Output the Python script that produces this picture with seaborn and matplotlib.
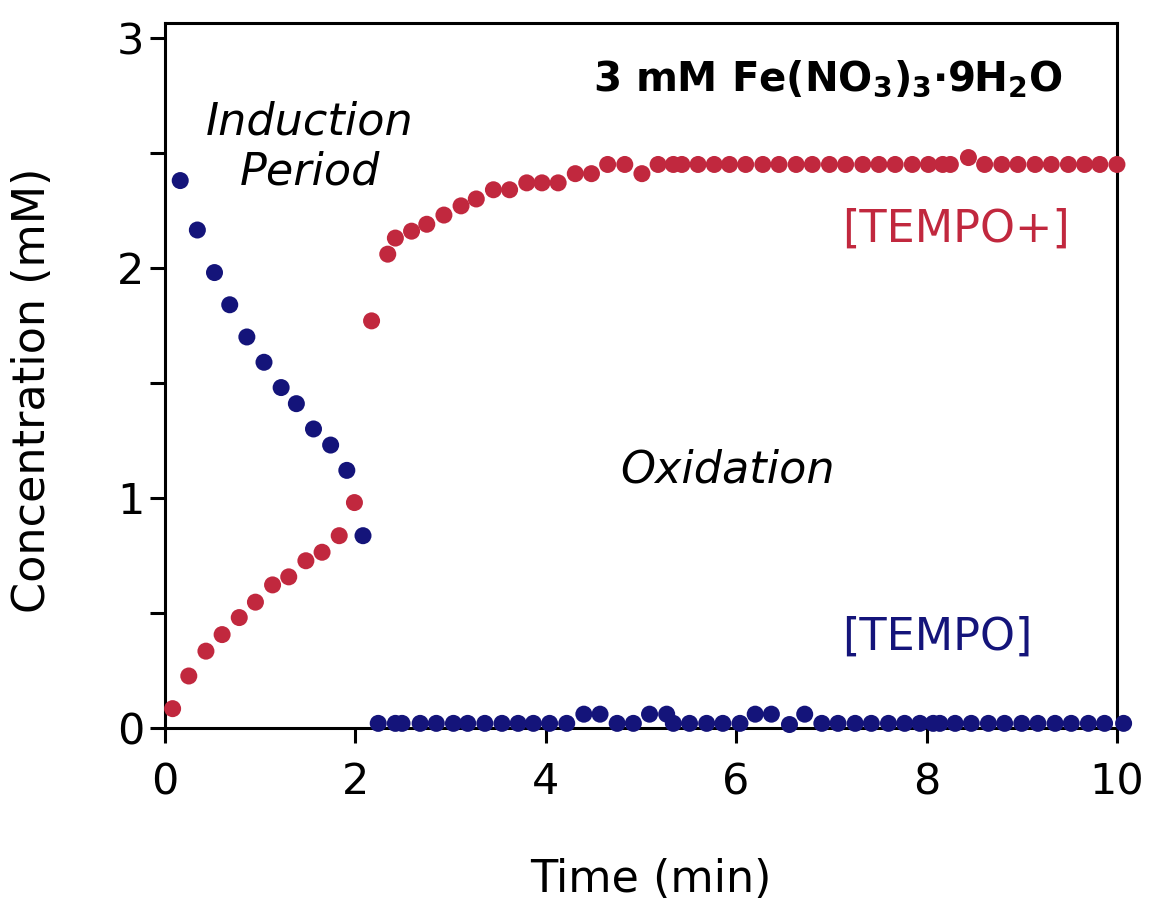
import matplotlib
matplotlib.use("Agg")
import matplotlib.pyplot as plt
import seaborn as sns
import pandas as pd

# ---- data ----
tempo_x = [0.16, 0.34, 0.52, 0.68, 0.86, 1.04, 1.22, 1.38, 1.56, 1.74, 1.91, 2.08,
           2.24, 2.42, 2.49, 2.68, 2.85, 3.03, 3.18, 3.36, 3.54, 3.71, 3.87, 4.04,
           4.22, 4.40, 4.57, 4.75, 4.92, 5.09, 5.27, 5.34, 5.51, 5.69, 5.86, 6.04,
           6.20, 6.37, 6.56, 6.72, 6.90, 7.07, 7.25, 7.42, 7.60, 7.77, 7.93, 8.07,
           8.14, 8.30, 8.47, 8.65, 8.82, 9.00, 9.17, 9.35, 9.52, 9.70, 9.87, 10.07]
tempo_y = [2.38, 2.165, 1.98, 1.84, 1.70, 1.59, 1.48, 1.41, 1.30, 1.23, 1.12, 0.836,
           0.02, 0.02, 0.02, 0.02, 0.02, 0.02, 0.02, 0.02, 0.02, 0.02, 0.02, 0.02,
           0.02, 0.06, 0.06, 0.02, 0.02, 0.06, 0.06, 0.02, 0.02, 0.02, 0.02, 0.02,
           0.06, 0.06, 0.015, 0.06, 0.02, 0.02, 0.02, 0.02, 0.02, 0.02, 0.02, 0.02,
           0.02, 0.02, 0.02, 0.02, 0.02, 0.02, 0.02, 0.02, 0.02, 0.02, 0.02, 0.02]

tempo_plus_x = [0.08, 0.25, 0.43, 0.60, 0.78, 0.95, 1.13, 1.30, 1.48, 1.65, 1.83, 1.99,
                2.17, 2.34, 2.42, 2.59, 2.75, 2.93, 3.11, 3.27, 3.45, 3.62, 3.80, 3.96,
                4.13, 4.31, 4.48, 4.65, 4.83, 5.01, 5.18, 5.34, 5.43, 5.60, 5.77, 5.93,
                6.10, 6.28, 6.45, 6.63, 6.80, 6.98, 7.15, 7.33, 7.50, 7.67, 7.85, 8.02,
                8.17, 8.25, 8.44, 8.61, 8.79, 8.96, 9.14, 9.31, 9.49, 9.66, 9.82, 10.0]
tempo_plus_y = [0.084, 0.226, 0.334, 0.406, 0.48, 0.547, 0.622, 0.657, 0.727, 0.764, 0.836, 0.98,
                1.77, 2.06, 2.13, 2.16, 2.19, 2.23, 2.27, 2.30, 2.34, 2.34, 2.37, 2.37,
                2.37, 2.41, 2.41, 2.45, 2.45, 2.41, 2.45, 2.45, 2.45, 2.45, 2.45, 2.45,
                2.45, 2.45, 2.45, 2.45, 2.45, 2.45, 2.45, 2.45, 2.45, 2.45, 2.45, 2.45,
                2.45, 2.45, 2.48, 2.45, 2.45, 2.45, 2.45, 2.45, 2.45, 2.45, 2.45, 2.45]

x_ticks = [0, 2, 4, 6, 8, 10]
y_ticks = [0, 1, 2, 3]
y_minor_ticks = [0.5, 1.5, 2.5]

RED = "#C1283E"
NAVY = "#14147A"

df = pd.concat([
    pd.DataFrame({"t": tempo_x, "c": tempo_y, "species": "[TEMPO]"}),
    pd.DataFrame({"t": tempo_plus_x, "c": tempo_plus_y, "species": "[TEMPO+]"}),
], ignore_index=True)

sns.set_style("ticks")
plt.rcParams["font.family"] = ["DejaVu Sans"]
plt.rcParams["mathtext.fontset"] = "custom"
plt.rcParams["mathtext.rm"] = "DejaVu Sans:bold"
plt.rcParams["mathtext.bf"] = "DejaVu Sans:bold"
for k in ["text.color", "axes.labelcolor", "xtick.color", "ytick.color", "axes.edgecolor"]:
    plt.rcParams[k] = "black"

fig = plt.figure(figsize=(11.49, 9.06), dpi=100)
ax = fig.add_axes([0.1436, 0.1965, 0.9721 - 0.1436, 0.9746 - 0.1965])

sns.scatterplot(data=df, x="t", y="c", hue="species",
                palette={"[TEMPO]": NAVY, "[TEMPO+]": RED},
                s=150, linewidth=0, legend=False, ax=ax, clip_on=False, zorder=3)

ax.set_xlim(0, 10)
ax.set_ylim(0, 3.065)
ax.set_xticks(x_ticks)
ax.set_yticks(y_ticks)
ax.set_yticks(y_minor_ticks, minor=True)
ax.tick_params(axis="both", which="both", direction="out", length=11, width=2.2,
               color="black", labelsize=31)
ax.tick_params(axis="y", which="both", pad=4)
ax.tick_params(axis="x", which="both", pad=13)
for sp in ax.spines.values():
    sp.set_visible(True)
    sp.set_linewidth(2.2)
    sp.set_color("black")

ax.set_xlabel("Time (min)", fontsize=32)
ax.set_ylabel("Concentration (mM)", fontsize=32)
ax.xaxis.set_label_coords(0.5105, -0.185)
ax.yaxis.set_label_coords(-0.117, 0.479)

ax.text(6.96, 2.82, r"3 mM Fe(NO$_3$)$_3$$\cdot$9H$_2$O", fontsize=29,
        fontweight="bold", ha="center", va="center")
ax.text(1.52, 2.525, "Induction\nPeriod", fontsize=32, style="italic",
        ha="center", va="center", linespacing=1.2)
ax.text(5.91, 1.12, "Oxidation", fontsize=32, style="italic",
        ha="center", va="center")
ax.text(8.31, 2.17, "[TEMPO+]", fontsize=32, color=RED, ha="center", va="center")
ax.text(8.11, 0.395, "[TEMPO]", fontsize=32, color=NAVY, ha="center", va="center")

fig.savefig("out.png", dpi=100)
